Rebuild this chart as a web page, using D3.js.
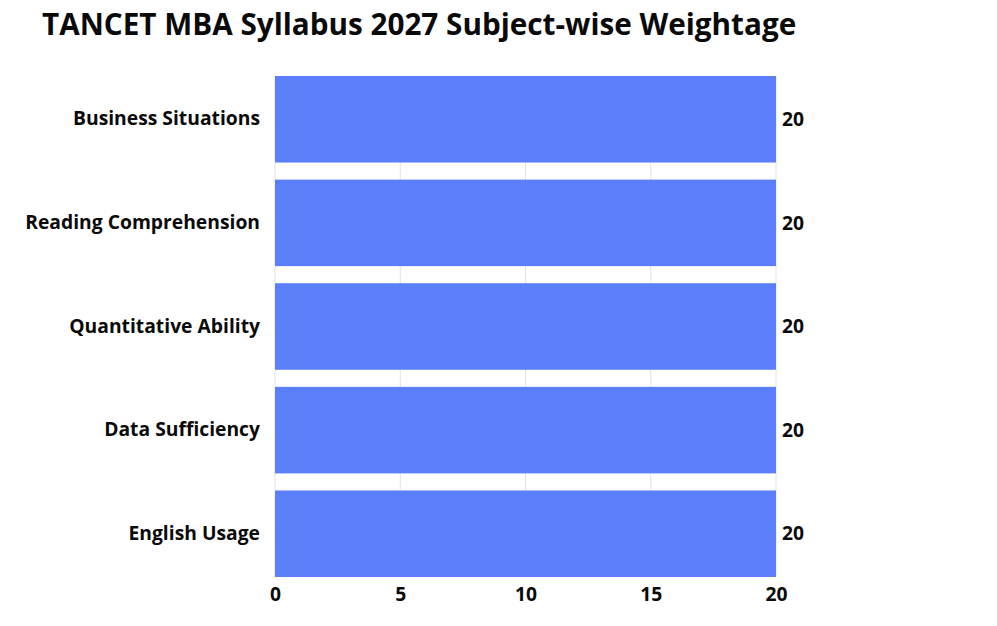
<!DOCTYPE html>
<html>
<head>
<meta charset="utf-8">
<script src="https://cdn.jsdelivr.net/npm/d3@7"></script>
<style>
  html, body { margin: 0; padding: 0; background: #ffffff; }
</style>
</head>
<body>
<script>
// Chart data
const categories = [
  "Business Situations",
  "Reading Comprehension",
  "Quantitative Ability",
  "Data Sufficiency",
  "English Usage"
];
const weightage = [20, 20, 20, 20, 20];
const xTicks = [0, 5, 10, 15, 20];

const width = 997;
const height = 626;
const margin = { top: 76, right: 221, bottom: 49, left: 275 };

const fontFamily = '"Open Sans", "Noto Sans", sans-serif';
const labelSize = 19.3;
const barColor = "#5b7ffb";
const gridColor = "#e2e2e2";
const textColor = "#0a0a0a";

const rows = categories.map((c, i) => ({ name: c, value: weightage[i] }));

const svg = d3.select("body")
  .append("svg")
  .attr("width", width)
  .attr("height", height)
  .style("font-family", fontFamily);

svg.append("rect")
  .attr("width", width)
  .attr("height", height)
  .attr("fill", "#ffffff");

const x = d3.scaleLinear()
  .domain([0, 20])
  .range([margin.left, width - margin.right]);

const y = d3.scaleBand()
  .domain(categories)
  .range([margin.top, height - margin.bottom])
  .paddingInner(0.165)
  .paddingOuter(0);

// Title
svg.append("text")
  .attr("x", 42)
  .attr("y", 35)
  .attr("fill", textColor)
  .attr("font-size", 29.7)
  .attr("font-weight", 700)
  .text("TANCET MBA Syllabus 2027 Subject-wise Weightage");

// Vertical gridlines (only show in the gaps between bars)
svg.append("g")
  .selectAll("line")
  .data(xTicks)
  .join("line")
  .attr("x1", (d) => x(d))
  .attr("x2", (d) => x(d))
  .attr("y1", margin.top)
  .attr("y2", height - margin.bottom)
  .attr("stroke", gridColor)
  .attr("stroke-width", 1);

// Bars
svg.append("g")
  .selectAll("rect")
  .data(rows)
  .join("rect")
  .attr("x", x(0))
  .attr("y", (d) => y(d.name))
  .attr("width", (d) => x(d.value) - x(0))
  .attr("height", y.bandwidth())
  .attr("fill", barColor);

// Category labels
const yAxis = d3.axisLeft(y).tickSize(0).tickPadding(15);
const yG = svg.append("g")
  .attr("transform", `translate(${margin.left},0)`)
  .call(yAxis);
yG.select(".domain").remove();
yG.selectAll("text")
  .attr("fill", textColor)
  .attr("font-size", labelSize)
  .attr("font-weight", 700)
  .style("font-family", fontFamily);

// Bottom axis tick labels
const xAxis = d3.axisBottom(x).tickValues(xTicks).tickSize(0).tickPadding(10);
const xG = svg.append("g")
  .attr("transform", `translate(0,${height - margin.bottom})`)
  .call(xAxis);
xG.select(".domain").remove();
xG.selectAll("text")
  .attr("fill", textColor)
  .attr("font-size", labelSize)
  .attr("font-weight", 700)
  .style("font-family", fontFamily);

// Value labels
svg.append("g")
  .selectAll("text")
  .data(rows)
  .join("text")
  .attr("x", (d) => x(d.value) + 6)
  .attr("y", (d) => y(d.name) + y.bandwidth() / 2)
  .attr("dy", "0.35em")
  .attr("fill", textColor)
  .attr("font-size", labelSize)
  .attr("font-weight", 700)
  .text((d) => d.value);
</script>
</body>
</html>
